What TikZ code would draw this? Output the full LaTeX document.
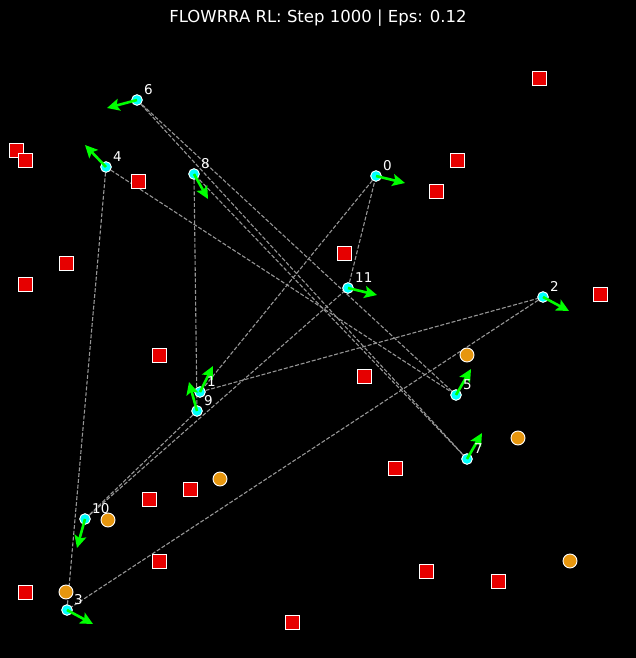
\documentclass[tikz,border=0pt]{standalone}
\usepackage{fontspec}
\setmainfont{DejaVu Sans}
\usetikzlibrary{arrows.meta,backgrounds}
\definecolor{obstred}{RGB}{230,0,0}
\definecolor{goalorange}{RGB}{230,150,15}
\definecolor{linkgray}{RGB}{150,150,150}
\definecolor{headgreen}{RGB}{0,255,0}
\definecolor{agentcyan}{RGB}{0,255,255}

\begin{document}
\begin{tikzpicture}[x=1pt,y=-1pt,
    agent/.style={circle,fill=agentcyan,draw=white,line width=0.8pt,minimum size=10.5pt,inner sep=0pt},
    obstacle/.style={rectangle,fill=obstred,draw=white,line width=0.9pt,minimum size=14pt,inner sep=0pt},
    goal/.style={circle,fill=goalorange,draw=white,line width=0.9pt,minimum size=14pt,inner sep=0pt},
    link/.style={draw=linkgray,line width=1.1pt,dash pattern=on 4pt off 1.8pt},
    heading/.style={draw=headgreen,line width=2.6pt,-{Stealth[length=12.5pt,width=12pt,inset=2.5pt]}},
    idx/.style={text=white,font=\fontsize{13.5}{14}\selectfont,inner sep=0pt,anchor=south west}]
                \useasboundingbox (0,0) rectangle (636,658);
                \foreach \i/\x/\y/\tx/\ty in {0/376/176/405/183, 1/200/392/213/366, 2/543/297/569/311,
                    3/67/610/93/624, 4/106/167/85/145, 5/456/395/471/369, 6/137/100/107/108,
                    7/467/459/482/433, 8/194/174/208/199, 9/197/411/189/382, 10/85/519/77/548,
                    11/348/288/377/295}
                    {\node[agent] (n\i) at (\x,\y) {};
                     \coordinate (t\i) at (\tx,\ty);}
                \begin{scope}[on background layer]
                    \fill[black] (0,0) rectangle (636,658);
                    \foreach \i in {0,...,11}
                        {\pgfmathtruncatemacro{\j}{mod(\i+1,12)}
                         \draw[link] (n\i.center) -- (n\j.center);}
                \end{scope}
                \foreach \x/\y [count=\k] in {16/150, 25/160, 539/78, 457/160, 436/191, 138/181, 66/263,
                    25/284, 344/253, 600/294, 159/355, 364/376, 395/468, 149/499, 190/489,
                    159/561, 25/592, 426/571, 498/581, 292/622}
                    \node[obstacle] (o\k) at (\x,\y) {};
                \foreach \x/\y [count=\k] in {467/355, 518/438, 220/479, 108/520, 570/561, 66/592}
                    \node[goal] (g\k) at (\x,\y) {};
                \foreach \i in {0,...,11}
                    {\node[agent] at (n\i) {};
                     \draw[heading] (n\i.center) -- (t\i);
                     \node[idx] (l\i) at ([xshift=7pt,yshift=5pt]n\i.center) {\i};}
                \node[text=white,font=\fontsize{16.5}{18}\selectfont] (title) at (318,18) {FLOWRRA RL: Step 1000 | Eps: 0.12};
            \end{tikzpicture}
\end{document}
